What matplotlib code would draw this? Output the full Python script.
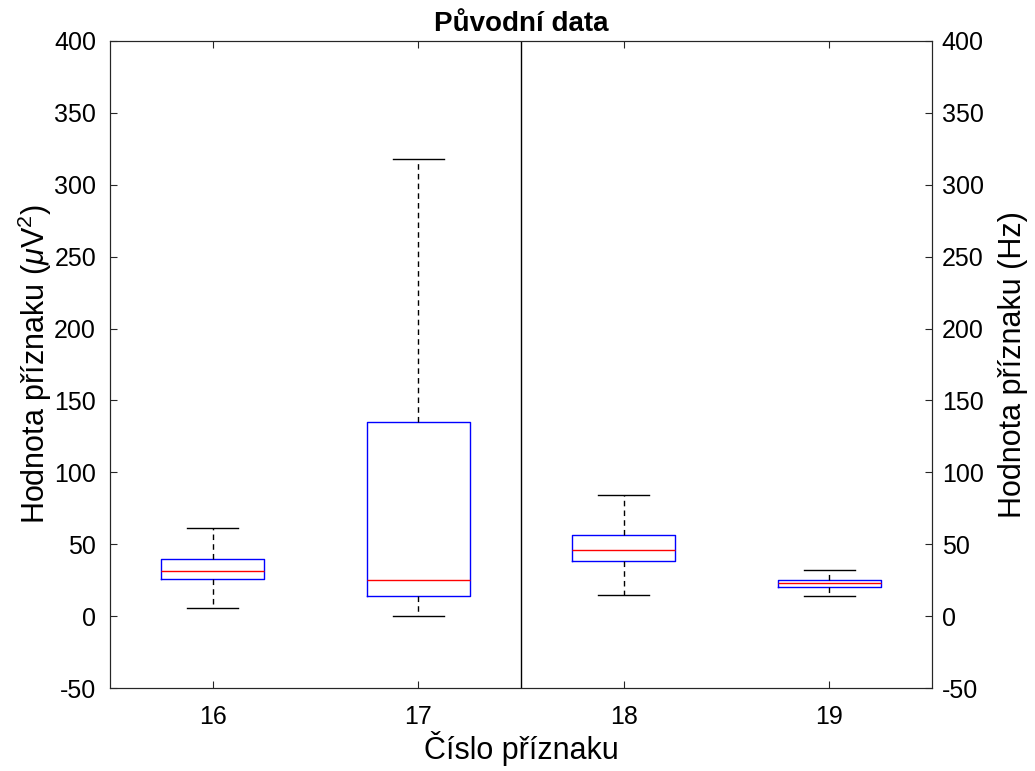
import matplotlib
matplotlib.use('Agg')
import matplotlib.pyplot as plt

plt.rcParams['font.family'] = ['Liberation Sans', 'DejaVu Sans']
plt.rcParams['mathtext.fontset'] = 'custom'
plt.rcParams['mathtext.it'] = 'Liberation Sans:italic'
plt.rcParams['mathtext.rm'] = 'Liberation Sans'
plt.rcParams['axes.unicode_minus'] = False

# Box statistics
features = [16, 17, 18, 19]
whisker_low = [5.4, 0.0, 14.5, 14.0]
q1 = [26.0, 14.2, 38.1, 20.5]
median = [31.6, 25.1, 46.0, 22.8]
q3 = [40.0, 135.2, 56.4, 25.1]
whisker_high = [61.5, 317.7, 84.2, 32.0]

stats = []
for i, f in enumerate(features):
    stats.append({'label': str(f), 'whislo': whisker_low[i], 'q1': q1[i],
                  'med': median[i], 'q3': q3[i], 'whishi': whisker_high[i],
                  'fliers': []})

fig = plt.figure(figsize=(10.35, 7.71), dpi=100)
ax = fig.add_axes([110 / 1035, 1 - 688 / 771, 822 / 1035, 647 / 771])

ax.bxp(stats, positions=features, widths=0.5, showfliers=False,
       boxprops=dict(color='blue', linewidth=1),
       medianprops=dict(color='red', linewidth=1),
       whiskerprops=dict(color='black', linestyle=(0, (4, 3)), linewidth=1),
       capprops=dict(color='black', linewidth=1),
       capwidths=0.25)

ax.axvline(17.5, color='black', linewidth=1)
ax.set_xlim(15.5, 19.5)
ax.set_ylim(-50, 400)
ax.set_xticks(features)
ax.set_xticklabels([str(f) for f in features])
ax.set_yticks(range(-50, 401, 50))

ax.set_title('Původní data', fontsize=20, fontweight='bold', pad=7)
ax.set_xlabel('Číslo příznaku', fontsize=22, labelpad=2)
ax.set_ylabel(r'Hodnota příznaku ($\mu$V$^2$)', fontsize=22, labelpad=0)

ax2 = ax.twinx()
ax2.set_ylim(-50, 400)
ax2.set_yticks(range(-50, 401, 50))
ax2.set_ylabel('Hodnota příznaku (Hz)', fontsize=22, labelpad=10)

for a in (ax, ax2):
    a.tick_params(direction='in', length=5, labelsize=18, colors='#262626',
                  labelcolor='black', top=True)
    for s in a.spines.values():
        s.set_color('#262626')
        s.set_linewidth(0.8)
ax.tick_params(axis='y', pad=10)
ax2.tick_params(axis='y', pad=7)
ax.tick_params(axis='x', pad=12)

fig.savefig('out.png', dpi=100)
